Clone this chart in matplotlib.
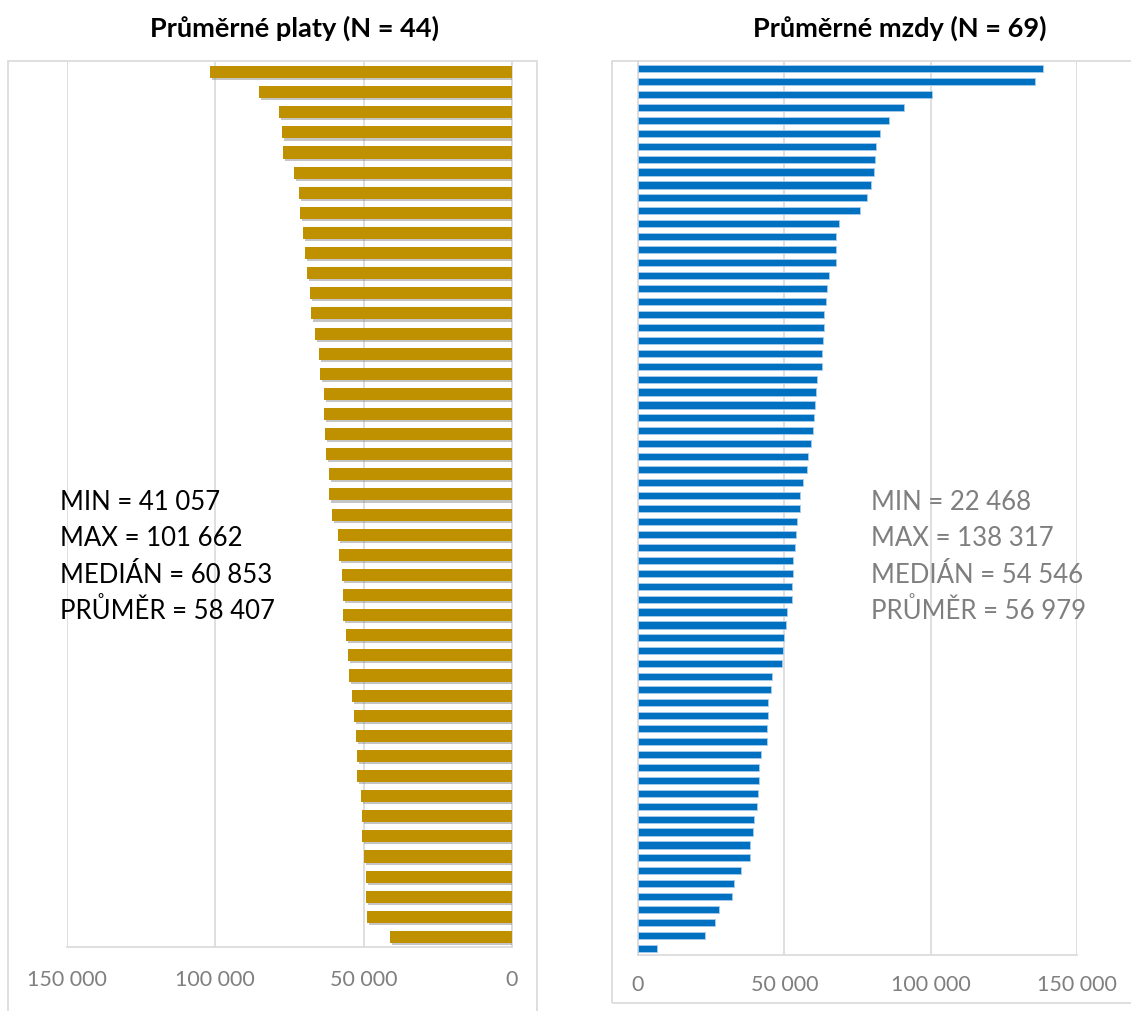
import matplotlib
matplotlib.use("Agg")
import matplotlib.pyplot as plt
from matplotlib.ticker import FuncFormatter
from matplotlib.patches import Rectangle
import matplotlib.patheffects as pe
import numpy as np

plt.rcParams['font.family'] = ['Lato', 'DejaVu Sans']

# ---- data ----
platy = [101662, 85400, 78430, 77420, 77080, 73610, 71820, 71350, 70340, 69660,
         69120, 68110, 67640, 66430, 65080, 64840, 63490, 63390, 62920, 62820,
         61700, 61700, 60800, 58540, 58200, 57420, 57090, 56980, 55840, 55400,
         54960, 54050, 53140, 52600, 52260, 52260, 51020, 50680, 50580, 49770,
         49330, 49100, 48990, 41057]

mzdy = [138317, 135530, 100310, 90880, 85770, 82810, 81450, 80880, 80540, 79750,
        78160, 75770, 68840, 67820, 67710, 67590, 65320, 64520, 64070, 63620,
        63620, 63280, 62940, 62820, 61000, 60900, 60400, 60300, 59700, 59150,
        58150, 57600, 56350, 55320, 55210, 54190, 53850, 53730, 53050, 52940,
        52710, 52480, 50890, 50550, 49760, 49530, 49190, 45950, 45330, 44420,
        44300, 43960, 43960, 42030, 41350, 41240, 41010, 40560, 39530, 39310,
        38280, 38170, 35220, 32720, 32040, 27720, 26360, 22830, 6480]

title_left = "Průměrné platy (N = 44)"
title_right = "Průměrné mzdy (N = 69)"
stats_left = ["MIN = 41 057", "MAX = 101 662", "MEDIÁN = 60 853", "PRŮMĚR = 58 407"]
stats_right = ["MIN = 22 468", "MAX = 138 317", "MEDIÁN = 54 546", "PRŮMĚR = 56 979"]
xticks = [0, 50000, 100000, 150000]

W, H = 1131, 1012
fig = plt.figure(figsize=(W / 100, H / 100), dpi=100)

def fx(px):
    return px / W

def fy(py):
    return 1 - py / H

GRID = '#D9D9D9'
TICKC = '#7F7F7F'
fmt = FuncFormatter(lambda v, p: f"{int(v):,}".replace(",", " "))

# chart frames
fig.patches.append(Rectangle((fx(8), fy(1020)), fx(537 - 8), (1020 - 62) / H,
                             transform=fig.transFigure, fill=False,
                             edgecolor=GRID, linewidth=1.2, zorder=0))
fig.patches.append(Rectangle((fx(612), fy(1004)), fx(1140 - 612), (1004 - 62) / H,
                             transform=fig.transFigure, fill=False,
                             edgecolor=GRID, linewidth=1.2, zorder=0))

# ---- left axes ----
axL = fig.add_axes([fx(67), fy(948), fx(512 - 67), (948 - 63) / H])
yL = np.arange(len(platy))
axL.barh(yL, platy, height=0.6, color='#BF9000', zorder=3,
         path_effects=[pe.SimplePatchShadow(offset=(1.5, -1.5), shadow_rgbFace='#808080', alpha=0.45),
                       pe.Normal()])
axL.set_xlim(150000, 0)
axL.set_ylim(len(platy) - 0.5, -0.5)
axL.set_xticks(xticks)
axL.xaxis.set_major_formatter(fmt)
axL.set_yticks([])
axL.grid(axis='x', color=GRID, linewidth=1.2, zorder=0)
for s in ['top', 'left']:
    axL.spines[s].set_visible(False)
axL.spines['right'].set_color(GRID)
axL.spines['right'].set_linewidth(1.2)
axL.spines['bottom'].set_color(GRID)
axL.spines['bottom'].set_linewidth(1.2)
axL.tick_params(axis='x', length=0, pad=16, labelsize=15.5, labelcolor=TICKC)

# ---- right axes ----
axR = fig.add_axes([fx(638), fy(956), fx(1077 - 638), (956 - 63) / H])
yR = np.arange(len(mzdy))
axR.barh(yR, mzdy, height=0.55, color='#0070C0', edgecolor='#A9CCEB',
         linewidth=0.6, zorder=3)
axR.set_xlim(0, 150000)
axR.set_ylim(len(mzdy) - 0.5, -0.5)
axR.set_xticks(xticks)
axR.xaxis.set_major_formatter(fmt)
axR.set_yticks([])
axR.grid(axis='x', color=GRID, linewidth=1.2, zorder=0)
for s in ['top', 'right']:
    axR.spines[s].set_visible(False)
axR.spines['left'].set_color(GRID)
axR.spines['left'].set_linewidth(1.2)
axR.spines['bottom'].set_color(GRID)
axR.spines['bottom'].set_linewidth(1.2)
axR.tick_params(axis='x', length=0, pad=14, labelsize=15.5, labelcolor=TICKC)

# ---- titles ----
fig.text(fx(295), fy(37), title_left, ha='center', va='baseline',
         fontsize=19.5, fontweight='bold', color='black')
fig.text(fx(900), fy(37), title_right, ha='center', va='baseline',
         fontsize=19.5, fontweight='bold', color='black')

# ---- stats annotations ----
baselines = [510, 546.5, 583, 619.5]
for s, b in zip(stats_left, baselines):
    fig.text(fx(60), fy(b), s, ha='left', va='baseline', fontsize=18.5, color='black')
for s, b in zip(stats_right, baselines):
    fig.text(fx(871), fy(b), s, ha='left', va='baseline', fontsize=18.5, color='#7F7F7F')

fig.savefig('out.png', dpi=100)
